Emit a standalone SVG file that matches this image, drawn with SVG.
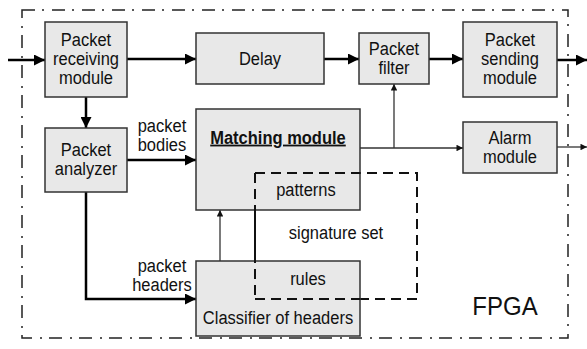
<svg xmlns="http://www.w3.org/2000/svg" width="587" height="349" viewBox="0 0 587 349">
  <style>
    .box { fill: #e8e8e8; stroke: #333; stroke-width: 1.5; }
    .lbl { font-family: "Liberation Sans", Arial, sans-serif; font-size: 16.5px; fill: #111; text-anchor: middle;
           transform-box: fill-box; transform-origin: center; transform: scaleY(1.1); }
    .bold { font-weight: bold; text-decoration: underline; }
    .big { font-size: 24px; }
    .thick { stroke: #000; stroke-width: 2.5; fill: none; }
    .thin { stroke: #333; stroke-width: 1.3; fill: none; }
    .frame { stroke: #222; stroke-width: 1.5; fill: none; stroke-dasharray: 13 7 2 8; }
    .sig { stroke: #111; stroke-width: 2; fill: none; stroke-dasharray: 10 6; }
  </style>
  <defs>
    <marker id="big" viewBox="0 0 10 10" refX="10" refY="5" markerWidth="5" markerHeight="4.4" markerUnits="strokeWidth" orient="auto">
      <path d="M0,0 L10,5 L0,10 Z" fill="#000"/>
    </marker>
    <marker id="small" viewBox="0 0 10 10" refX="10" refY="5" markerWidth="6.5" markerHeight="5" markerUnits="strokeWidth" orient="auto">
      <path d="M0,0 L10,5 L0,10 Z" fill="#111"/>
    </marker>
  </defs>

  <rect width="587" height="349" fill="#fff"/>

  <!-- FPGA boundary -->
  <rect class="frame" x="22" y="10" width="546" height="328"/>

  <!-- signature set region -->
  <g id="signature-set">
    <rect class="sig" x="255" y="173" width="162" height="126"/>
  </g>

  <g id="connectors">
    <line class="thick" x1="8" y1="60" x2="45" y2="60" marker-end="url(#big)"/>
    <line class="thick" x1="127" y1="59" x2="196" y2="59" marker-end="url(#big)"/>
    <line class="thick" x1="324" y1="59" x2="359" y2="59" marker-end="url(#big)"/>
    <line class="thick" x1="429" y1="59" x2="463" y2="59" marker-end="url(#big)"/>
    <line class="thick" x1="557" y1="60" x2="587" y2="60" marker-end="url(#big)"/>
    <line class="thick" x1="86" y1="97" x2="86" y2="128" marker-end="url(#big)"/>
    <line class="thick" x1="127" y1="160" x2="196" y2="160" marker-end="url(#big)"/>
    <polyline class="thick" points="86,192 86,299 196,299" marker-end="url(#big)"/>
    <line class="thin" x1="360" y1="148" x2="463" y2="148" marker-end="url(#small)"/>
    <line class="thin" x1="394" y1="148" x2="394" y2="84" marker-end="url(#small)"/>
    <line class="thin" x1="220" y1="261" x2="220" y2="210" marker-end="url(#small)"/>
    <line class="thin" x1="557" y1="147" x2="587" y2="147" marker-end="url(#small)"/>
  </g>

  <g id="receiving">
    <rect class="box" x="45" y="22" width="82" height="75"/>
    <text class="lbl" x="86" y="45">Packet</text>
    <text class="lbl" x="86" y="64">receiving</text>
    <text class="lbl" x="86" y="83">module</text>
  </g>

  <g id="delay">
    <rect class="box" x="196" y="33" width="128" height="51"/>
    <text class="lbl" x="260" y="64">Delay</text>
  </g>

  <g id="filter">
    <rect class="box" x="359" y="33" width="70" height="51"/>
    <text class="lbl" x="394" y="54">Packet</text>
    <text class="lbl" x="394" y="73">filter</text>
  </g>

  <g id="sending">
    <rect class="box" x="463" y="22" width="94" height="75"/>
    <text class="lbl" x="510" y="45">Packet</text>
    <text class="lbl" x="510" y="64">sending</text>
    <text class="lbl" x="510" y="83">module</text>
  </g>

  <g id="analyzer">
    <rect class="box" x="45" y="128" width="82" height="64"/>
    <text class="lbl" x="86" y="155">Packet</text>
    <text class="lbl" x="86" y="174">analyzer</text>
  </g>

  <g id="alarm">
    <rect class="box" x="463" y="122" width="94" height="51"/>
    <text class="lbl" x="510" y="143">Alarm</text>
    <text class="lbl" x="510" y="162">module</text>
  </g>

  <g id="matching">
    <rect class="box" x="196" y="109" width="164" height="101"/>
    <text class="lbl bold" x="278" y="143">Matching module</text>
    <text class="lbl" x="306" y="195">patterns</text>
  </g>

  <g id="classifier">
    <rect class="box" x="196" y="261" width="164" height="75"/>
    <text class="lbl" x="308" y="284">rules</text>
    <text class="lbl" x="278" y="323">Classifier of headers</text>
  </g>

  <g id="labels">
    <text class="lbl" x="162" y="131">packet</text>
    <text class="lbl" x="162" y="150">bodies</text>
    <text class="lbl" x="162" y="271">packet</text>
    <text class="lbl" x="162" y="290">headers</text>
    <text class="lbl" x="336" y="238">signature set</text>
    <text class="lbl big" x="505" y="314">FPGA</text>
  </g>

  <!-- redraw dashed edges over the boxes they cross -->
  <polyline class="sig" points="255,173 255,299"/>
  <polyline class="sig" points="255,173 360,173"/>
  <polyline class="sig" points="255,299 360,299"/>
</svg>
